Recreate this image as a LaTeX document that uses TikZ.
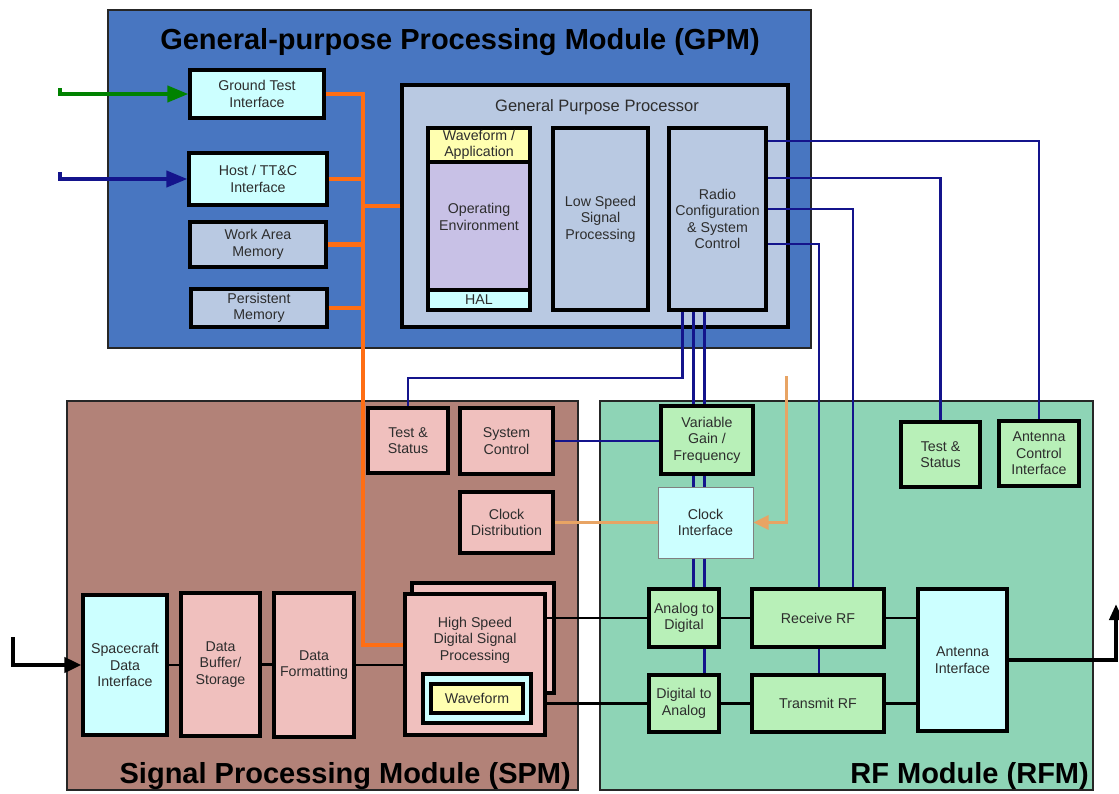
\documentclass[tikz,border=0pt]{standalone}
\usepackage{fontspec}
\setmainfont{Liberation Sans}
\usetikzlibrary{arrows.meta}
\definecolor{gpmblue}{RGB}{72,118,193}
\definecolor{gppfill}{RGB}{185,201,226}
\definecolor{cyanbox}{RGB}{204,255,255}
\definecolor{yellowbox}{RGB}{255,255,176}
\definecolor{lavender}{RGB}{200,193,230}
\definecolor{spmfill}{RGB}{178,130,120}
\definecolor{pinkbox}{RGB}{240,192,190}
\definecolor{rfmfill}{RGB}{142,212,182}
\definecolor{greenbox}{RGB}{184,240,184}
\definecolor{navyline}{RGB}{20,20,140}
\definecolor{busorange}{RGB}{255,110,20}
\definecolor{clkorange}{RGB}{232,164,100}
\definecolor{arrowgreen}{RGB}{0,130,0}
\definecolor{txt}{RGB}{45,45,45}
\begin{document}
\begin{tikzpicture}[x=1pt,y=-1pt,
  corners/.style n args={4}{at={({(#1+#3)/2},{(#2+#4)/2})}, minimum width={(#3-#1)*1pt}, minimum height={(#4-#2)*1pt}},
  bx/.style={draw=black, line width=3.2pt, inner sep=0pt, align=center, text=txt, font=\fontsize{14.2}{16.5}\selectfont},
  lbl/.style={align=center, text=txt, inner sep=0pt, font=\fontsize{14.2}{16.5}\selectfont},
  mod/.style={draw=black!85, line width=2.4pt, inner sep=0pt},
  ttl/.style={font=\fontsize{29}{31}\bfseries\selectfont, text=black, inner sep=0pt},
  sig/.style={draw=navyline, line width=2.5pt},
  wire/.style={draw=black, line width=2.5pt},
  bus/.style={draw=busorange, line width=4.5pt},
  clk/.style={draw=clkorange, line width=3pt},
]
\useasboundingbox (0,0) rectangle (1119,793);

% ---------- modules ----------
\node[mod, fill=gpmblue, corners={108}{10}{811}{348}] (gpm) {};
\node[mod, fill=spmfill, corners={67}{401}{578}{790}] (spm) {};
\node[mod, fill=rfmfill, corners={600}{401}{1093}{790}] (rfm) {};
\node[ttl, anchor=base] (gpmtitle) at (460,49) {General-purpose Processing Module (GPM)};
\node[ttl, anchor=base east] (spmtitle) at (571,783) {Signal Processing Module (SPM)};
\node[ttl, anchor=base east] (rfmtitle) at (1089,783) {RF Module (RFM)};

% ---------- GPM ----------
\node[bx, fill=cyanbox, corners={190}{70}{324}{118}] (gti) {Ground Test\\Interface};
\node[bx, fill=cyanbox, corners={189}{153}{327}{205}] (host) {Host / TT\&C\\Interface};
\node[bx, fill=gppfill, corners={190}{222}{326}{267}] (wam) {Work Area\\Memory};
\node[bx, fill=gppfill, corners={191}{289}{327}{327}] (pm) {Persistent\\Memory};

\node[bx, fill=gppfill, corners={402}{85}{788}{327}] (gpp) {};
\node[lbl, font=\fontsize{16.5}{19}\selectfont] (gpptitle) at (597,107) {General Purpose Processor};
\node[bx, fill=yellowbox, corners={428}{128}{530}{162}] (wfa) {Waveform /\\Application};
\node[bx, fill=lavender, corners={428}{162}{530}{290}] (oe) {};
\node[lbl] (oetxt) at (479,217) {Operating\\Environment};
\node[bx, fill=cyanbox, corners={428}{290}{530}{310}] (hal) {HAL};
\node[bx, fill=gppfill, corners={553}{128}{648}{310}] (lssp) {Low Speed\\Signal\\Processing};
\node[bx, fill=gppfill, corners={669}{128}{766}{310}] (rc) {Radio\\Configuration\\\& System\\Control};

% ---------- SPM ----------
\node[bx, fill=pinkbox, corners={368}{408}{448}{473}] (ts1) {Test \&\\Status};
\node[bx, fill=pinkbox, corners={460}{408}{553}{474}] (sc) {System\\Control};
\node[bx, fill=pinkbox, corners={460}{492}{553}{553}] (cd) {Clock\\Distribution};
\node[bx, fill=cyanbox, corners={83}{595}{167}{735}] (sdi) {Spacecraft\\Data\\Interface};
\node[bx, fill=pinkbox, corners={181}{593}{260}{736}] (dbs) {Data\\Buffer/\\Storage};
\node[bx, fill=pinkbox, corners={274}{593}{354}{737}] (df) {Data\\Formatting};
\node[bx, fill=pinkbox, corners={412}{583}{554}{693}] (hsb) {};
\node[bx, fill=pinkbox, corners={405}{594}{545}{735}] (hsf) {};
\node[lbl] (hstxt) at (475,640) {High Speed\\Digital Signal\\Processing};
\node[bx, fill=cyanbox, corners={423}{674}{531}{723}] (wfo) {};
\node[bx, fill=yellowbox, corners={431}{684}{523}{713}] (wfi) {Waveform};

% ---------- RFM ----------
\node[bx, fill=greenbox, corners={661}{406}{753}{474}] (vgf) {Variable\\Gain /\\Frequency};
\node[bx, draw=gray, line width=1pt, fill=cyanbox, corners={658}{487}{753}{558}] (ci) {Clock\\Interface};
\node[bx, fill=greenbox, corners={901}{422}{980}{487}] (ts2) {Test \&\\Status};
\node[bx, fill=greenbox, corners={999}{421}{1079}{486}] (aci) {Antenna\\Control\\Interface};
\node[bx, fill=greenbox, corners={649}{589}{719}{647}] (ad) {Analog to\\Digital};
\node[bx, fill=greenbox, corners={649}{675}{719}{732}] (da) {Digital to\\Analog};
\node[bx, fill=greenbox, corners={752}{589}{884}{647}] (rx) {Receive RF};
\node[bx, fill=greenbox, corners={752}{675}{884}{732}] (tx) {Transmit RF};
\node[bx, fill=cyanbox, corners={918}{589}{1007}{731}] (ai) {Antenna\\Interface};

% ---------- helper coordinates ----------
\coordinate (v1) at (682.5,0);
\coordinate (v2) at (693.5,0);
\coordinate (v3) at (704.5,0);
\coordinate (vr1) at (819,0);
\coordinate (vr2) at (853,0);
\coordinate (h1) at (0,141);
\coordinate (h2) at (0,178);
\coordinate (h3) at (0,209);
\coordinate (h4) at (0,244);
\coordinate (hts) at (0,378);
\coordinate (bb) at (363,645);
\coordinate (inG) at (60,88);
\coordinate (inH) at (60,172);
\coordinate (inS) at (13,637);
\coordinate (outA) at (1116,604);
\coordinate (clk0) at (786,376);

% ---------- orange bus ----------
\draw[bus] (gti.east) -| (bb) -- (hsf.west |- bb);
\draw[bus] (host.east) -- (host.east -| bb);
\draw[bus] (wam.east) -- (wam.east -| bb);
\draw[bus] (pm.east) -- (pm.east -| bb);
\draw[bus] (gpp.west) -- (gpp.west -| bb);

% ---------- input arrows ----------
\draw[arrowgreen, line width=4pt, -{Triangle[length=21pt,width=16pt]}] (inG) |- (gti.west);
\draw[navyline, line width=4pt, -{Triangle[length=21pt,width=16pt]}] (inH) |- (host.west);
\draw[black, line width=4pt, -{Triangle[length=17pt,width=15pt]}] (inS) |- (sdi.west);
\draw[black, line width=4pt, -{Triangle[length=16pt,width=13pt]}] (ai.east) -| (outA);

% ---------- control lines ----------
\draw[sig] (rc.south -| v1) -- (v1 |- hts) -| (ts1.north);
\draw[sig] (rc.south -| v2) -- (vgf.north -| v2);
\draw[sig] (rc.south -| v3) -- (vgf.north -| v3);
\draw[sig] (vgf.south -| v2) -- (ci.north -| v2);
\draw[sig] (vgf.south -| v3) -- (ci.north -| v3);
\draw[sig] (ci.south -| v2) -- (ad.north -| v2);
\draw[sig] (ci.south -| v3) -- (ad.north -| v3);
\draw[sig] (ad.south -| v3) -- (da.north -| v3);
\draw[sig] (rc.east |- h1) -| (aci.north);
\draw[sig] (rc.east |- h2) -| (ts2.north);
\draw[sig] (rc.east |- h3) -| (rx.north -| vr2);
\draw[sig] (rc.east |- h4) -| (rx.north -| vr1);
\draw[sig] (rx.south -| vr1) -- (tx.north -| vr1);
\draw[sig] (sc.east) -- (sc.east -| vgf.west);

% ---------- clock ----------
\draw[clk] (ci.west) -- (cd.east);
\draw[clk, -{Triangle[length=15pt,width=14pt]}] (clk0) |- (ci.east);

% ---------- data path ----------
\draw[wire] (sdi.east) -- (sdi.east -| dbs.west);
\draw[wire] (dbs.east) -- (dbs.east -| df.west);
\draw[wire] (df.east) -- (df.east -| hsf.west);
\draw[wire] (hsf.east |- ad.west) -- (ad.west);
\draw[wire] (hsf.east |- da.west) -- (da.west);
\draw[wire] (ad.east) -- (rx.west);
\draw[wire] (da.east) -- (tx.west);
\draw[wire] (rx.east) -- (rx.east -| ai.west);
\draw[wire] (tx.east) -- (tx.east -| ai.west);
\end{tikzpicture}
\end{document}
